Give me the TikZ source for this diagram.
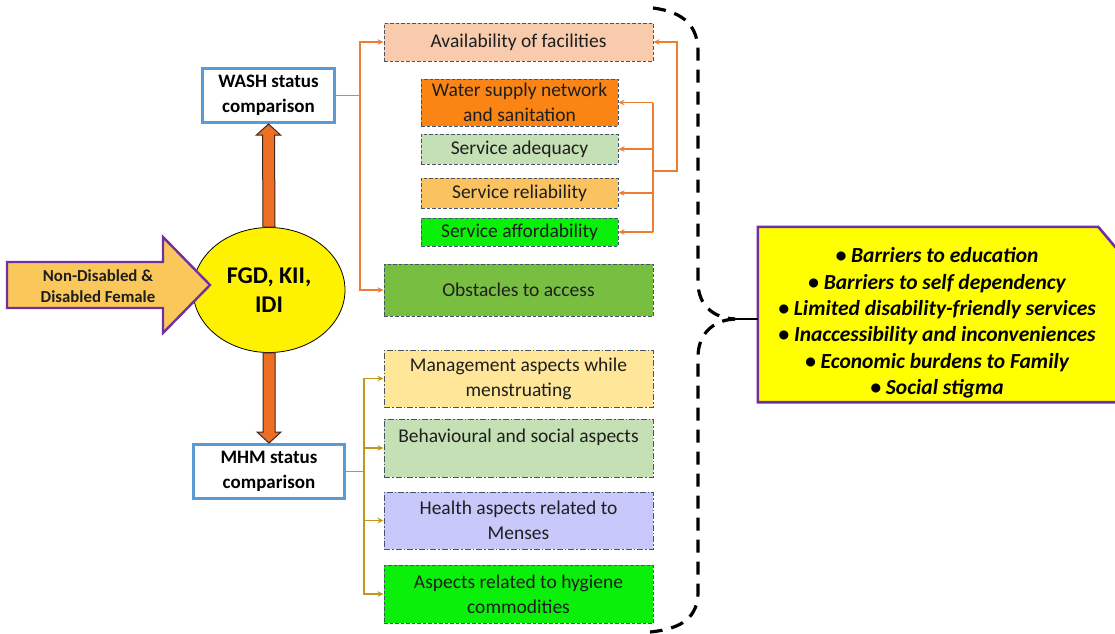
\documentclass[tikz,border=0pt]{standalone}
\usepackage{fontspec}
\setmainfont{Carlito}
\usetikzlibrary{calc,arrows.meta,shapes.geometric}
\definecolor{washblue}{RGB}{91,155,213}
\definecolor{boxline}{RGB}{68,84,106}
\definecolor{txt}{RGB}{30,30,30}
\definecolor{conor}{RGB}{237,125,49}
\definecolor{congold}{RGB}{196,150,30}
\definecolor{bigor}{RGB}{238,110,35}
\definecolor{bigline}{RGB}{60,40,30}
\definecolor{purp}{RGB}{112,48,160}
\definecolor{cSrc}{RGB}{250,200,90}
\definecolor{cAvail}{RGB}{248,203,173}
\definecolor{cWater}{RGB}{250,133,20}
\definecolor{cAdeq}{RGB}{197,224,180}
\definecolor{cReli}{RGB}{250,195,95}
\definecolor{cAfford}{RGB}{10,240,10}
\definecolor{cObst}{RGB}{120,190,65}
\definecolor{cMgmt}{RGB}{255,230,153}
\definecolor{cHealth}{RGB}{200,200,250}
\definecolor{cSum}{RGB}{255,255,0}
\tikzset{
  boxt/.style={draw=boxline, line width=1pt, inner sep=0pt, align=center, text=txt, font=\fontsize{19.5}{25}\selectfont},
  dsh/.style={boxt, dash pattern=on 3.5pt off 2pt},
  dshdot/.style={boxt, dash pattern=on 6pt off 2pt on 1.5pt off 2pt},
  oc/.style={draw=conor, line width=1.4pt},
  gc/.style={draw=congold, line width=1.4pt},
  tipA/.style={-{Stealth[length=6pt,width=5.5pt]}},
  status/.style={draw=washblue, line width=3pt, fill=white, align=center, font=\bfseries\fontsize{19}{25}\selectfont, inner sep=0pt},
  bigarrow/.style={fill=bigor, draw=bigline, line width=1pt, line join=miter},
  bracepath/.style={draw=black, line width=3.2pt, dash pattern=on 13pt off 9pt},
}
\begin{document}
\begin{tikzpicture}[x=1pt,y=-1pt]
\useasboundingbox (0,0) rectangle (1115,633);
\clip (0,0) rectangle (1115,633);
\fill[white] (0,0) rectangle (1115,633);

% status boxes and centre ellipse
\node[status, minimum width=132pt, minimum height=54pt] (wash) at (268.5,95.5) {WASH status\\comparison};
\node[status, minimum width=151pt, minimum height=54pt] (mhm) at (269,471.5) {MHM status\\comparison};
\node[ellipse, draw=black, line width=0.8pt, fill=yellow, minimum width=152pt, minimum height=125pt, inner sep=0pt, align=center, font=\bfseries\fontsize{24}{29}\selectfont] (fgd) at (269,290) {FGD, KII,\\IDI};

% big arrows
\filldraw[bigarrow] ($(fgd.north)+(-6,0)$) -- ($(wash.south)+(-6,11)$) -- ($(wash.south)+(-12,11)$) -- (wash.south) -- ($(wash.south)+(12,11)$) -- ($(wash.south)+(6,11)$) -- ($(fgd.north)+(6,0)$) -- cycle;
\filldraw[bigarrow] ($(fgd.south)+(-6,0)$) -- ($(mhm.north)+(-6,-11)$) -- ($(mhm.north)+(-12,-11)$) -- (mhm.north) -- ($(mhm.north)+(12,-11)$) -- ($(mhm.north)+(6,-11)$) -- ($(fgd.south)+(6,0)$) -- cycle;

% source arrow
\filldraw[fill=cSrc, draw=purp, line width=2.4pt, line join=miter] (7,262) -- (163,262) -- (163,237) -- (210,285) -- (163,333) -- (163,308) -- (7,308) -- cycle;
\node[font=\bfseries\fontsize{16.8}{21}\selectfont, align=center, text=txt] (src) at (98,286) {Non-Disabled \&\\Disabled Female};

% WASH boxes
\node[dsh, fill=cAvail, minimum width=269pt, minimum height=38pt] (avail) at (518.5,42) {Availability of facilities};
\node[dsh, fill=cWater, minimum width=197pt, minimum height=47pt] (water) at (519.5,102.5) {Water supply network\\and sanitation};
\node[dsh, fill=cAdeq, minimum width=197pt, minimum height=30pt] (adeq) at (519.5,149) {Service adequacy};
\node[dsh, fill=cReli, minimum width=197pt, minimum height=30pt] (reli) at (519.5,193) {Service reliability};
\node[dsh, fill=cAfford, minimum width=197pt, minimum height=28pt] (afford) at (519.5,232) {Service affordability};
\node[dsh, fill=cObst, minimum width=269pt, minimum height=52pt] (obst) at (518.5,290) {Obstacles to access};

% MHM boxes
\node[dshdot, fill=cMgmt, minimum width=269pt, minimum height=57pt] (mgmt) at (518.5,378.5) {Management aspects while\\menstruating};
\node[dshdot, fill=cAdeq, minimum width=269pt, minimum height=58pt] (behav) at (518.5,448) {Behavioural and social aspects\\\mbox{}};
\node[dshdot, fill=cHealth, minimum width=269pt, minimum height=57pt] (health) at (518.5,520.5) {Health aspects related to\\Menses};
\node[dsh, fill=cAfford, minimum width=269pt, minimum height=58pt] (hyg) at (518.5,594) {Aspects related to hygiene\\commodities};

% WASH connectors
\coordinate (wj) at (360,96);
\draw[oc] (wash.east) -- (wash.east -| wj);
\draw[oc,tipA] (wash.east -| wj) |- (avail.west);
\draw[oc,tipA] (wash.east -| wj) |- (obst.west);

\coordinate (rj) at (653,171);
\coordinate (rk) at (677,171);
\draw[oc] (water.east -| rj) -- (afford.east -| rj);
\foreach \n in {water,adeq,reli,afford}{
  \draw[oc,tipA] (\n.east -| rj) -- (\n.east);
}
\draw[oc,tipA] (rj) -- (rk) |- (avail.east);

% MHM connectors
\coordinate (mj) at (364,472);
\draw[gc] (mhm.east) -- (mhm.east -| mj);
\foreach \n in {mgmt,behav,health,hyg}{
  \draw[gc,tipA] (mhm.east -| mj) |- (\n.west);
}

% summary box
\node[minimum width=372pt, minimum height=175pt, inner sep=0pt] (sumbox) at (944,314.5) {};
\filldraw[fill=cSum, draw=purp, line width=2.6pt, line join=miter] (sumbox.north west) -- ($(sumbox.north east)+(-32,0)$) -- ($(sumbox.north east)+(0,38)$) -- (sumbox.south east) -- (sumbox.south west) -- cycle;
\node[font=\bfseries\itshape\fontsize{21.5}{26.4}\selectfont, align=center, text=black] (sum) at (937,323)
 {\textbullet\ Barriers to education\\
  \textbullet\ Barriers to self dependency\\
  \textbullet\ Limited disability-friendly services\\
  \textbullet\ Inaccessibility and inconveniences\\
  \textbullet\ Economic burdens to Family\\
  \textbullet\ Social stigma};

% brace
\coordinate (btip) at (735,319);
\draw[bracepath] (653,8) .. controls (684,12) and (698,26) .. (698,52) -- (698,282) .. controls (698,305) and (713,318) .. (btip);
\draw[bracepath] (btip) .. controls (713,320) and (698,334) .. (698,357) -- (698,592) .. controls (698,617) and (682,629) .. (650,632);
\draw[line width=2.2pt] (btip) -- (sumbox.west |- btip);
\end{tikzpicture}
\end{document}
